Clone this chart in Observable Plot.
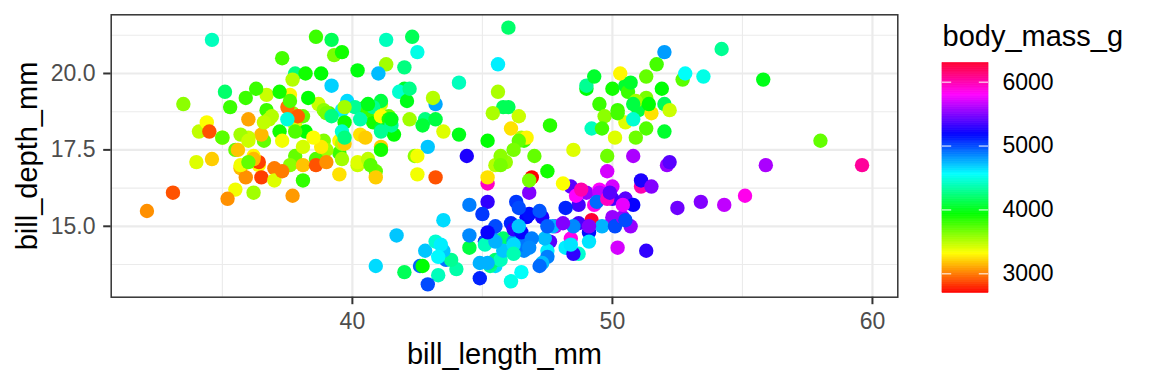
<!DOCTYPE html>
<html>
<head>
<meta charset="utf-8">
<script src="https://cdn.jsdelivr.net/npm/d3@7"></script>
<script src="https://cdn.jsdelivr.net/npm/@observablehq/plot@0.6"></script>
<style>
  html, body { margin: 0; padding: 0; background: #ffffff; }
  #wrap { position: relative; width: 1152px; height: 384px; overflow: hidden; }
  #legend { position: absolute; left: 941.7px; top: 0; }
  #wrap g[aria-label$="tick label"] { font-size: 23px; }
</style>
</head>
<body>
<div id="wrap"><div id="main"></div><div id="legend"></div></div>
<script>
// Palmer penguins: bill length (mm), bill depth (mm), body mass (g)
const billLength = [
39.1,39.5,40.3,36.7,39.3,38.9,39.2,34.1,42.0,37.8,37.8,41.1,38.6,34.6,36.6,38.7,42.5,34.4,46.0,37.8,
37.7,35.9,38.2,38.8,35.3,40.6,40.5,37.9,40.5,39.5,37.2,39.5,40.9,36.4,39.2,38.8,42.2,37.6,39.8,36.5,
40.8,36.0,44.1,37.0,39.6,41.1,37.5,36.0,42.3,39.6,40.1,35.0,42.0,34.5,41.4,39.0,40.6,36.5,37.6,35.7,
41.3,37.6,41.1,36.4,41.6,35.5,41.1,35.9,41.8,33.5,39.7,39.6,45.8,35.5,42.8,40.9,37.2,36.2,42.1,34.6,
42.9,36.7,35.1,37.3,41.3,36.3,36.9,38.3,38.9,35.7,41.1,34.0,39.6,36.2,40.8,38.1,40.3,33.1,43.2,35.0,
41.0,37.7,37.8,37.9,39.7,38.6,38.2,38.1,43.2,38.1,45.6,39.7,42.2,39.6,42.7,38.6,37.3,35.7,41.1,36.2,
37.7,40.2,41.4,35.2,40.6,38.8,41.5,39.0,44.1,38.5,43.1,36.8,37.5,38.1,41.1,35.6,40.2,37.0,39.7,40.2,
40.6,32.1,40.7,37.3,39.0,39.2,36.6,36.0,37.8,36.0,41.5,
46.1,50.0,48.7,50.0,47.6,46.5,45.4,46.7,43.3,46.8,40.9,49.0,45.5,48.4,45.8,49.3,42.0,49.2,46.2,48.7,
50.2,45.1,46.5,46.3,42.9,46.1,44.5,47.8,48.2,50.0,47.3,42.8,45.1,59.6,49.1,48.4,42.6,44.4,44.0,48.7,
42.7,49.6,45.3,49.6,50.5,43.6,45.5,50.5,44.9,45.2,46.6,48.5,45.1,50.1,46.5,45.0,43.8,45.5,43.2,50.4,
45.3,46.2,45.7,54.3,45.8,49.8,46.2,49.5,43.5,50.7,47.7,46.4,48.2,46.5,46.4,48.6,47.5,51.1,45.2,45.2,
49.1,52.5,47.4,50.0,44.9,50.8,43.4,51.3,47.5,52.1,47.5,52.2,45.5,49.5,44.5,50.8,49.4,46.9,48.4,51.1,
48.5,55.9,47.2,49.1,47.3,46.8,41.7,53.4,43.3,48.1,50.5,49.8,43.5,51.5,46.2,55.1,44.5,48.8,47.2,46.8,
50.4,45.2,49.9,
46.5,50.0,51.3,45.4,52.7,45.2,46.1,51.3,46.0,51.3,46.6,51.7,47.0,52.0,45.9,50.5,50.3,58.0,46.4,49.2,
42.4,48.5,43.2,50.6,46.7,52.0,50.5,49.5,46.4,52.8,40.9,54.2,42.5,51.0,49.7,47.5,47.6,52.0,46.9,53.5,
49.0,46.2,50.9,45.5,50.9,50.8,50.1,49.0,51.5,49.8,48.1,51.4,45.7,50.7,42.5,52.2,45.2,49.3,50.2,45.6,
51.9,46.8,45.7,55.8,43.5,49.6,50.8,50.2
];
const billDepth = [
18.7,17.4,18.0,19.3,20.6,17.8,19.6,18.1,20.2,17.1,17.3,17.6,21.2,21.1,17.8,19.0,20.7,18.4,21.5,18.3,
18.7,19.2,18.1,17.2,18.9,18.6,17.9,18.6,18.9,16.7,18.1,17.8,18.9,17.0,21.1,20.0,18.5,19.3,19.1,18.0,
18.4,18.5,19.7,16.9,18.8,19.0,18.9,17.9,21.2,17.7,18.9,17.9,19.5,18.1,18.6,17.5,18.8,16.6,19.1,16.9,
21.1,17.0,18.2,17.1,18.0,16.2,19.1,16.6,19.4,19.0,18.4,17.2,18.9,17.5,18.5,16.8,19.4,16.1,19.1,17.2,
17.6,18.8,19.4,17.8,20.3,19.5,18.6,19.2,18.8,18.0,18.1,17.1,18.1,17.3,18.9,18.6,18.5,16.1,18.5,17.9,
20.0,16.0,20.0,18.6,18.9,17.2,20.0,17.0,19.0,16.5,20.3,17.7,19.5,20.7,18.3,17.0,20.5,17.0,18.6,17.2,
19.8,17.0,18.5,15.9,19.0,17.6,18.3,17.1,18.0,17.9,19.2,18.5,18.5,17.6,17.5,17.5,20.1,16.5,17.9,17.1,
17.2,15.5,17.0,16.8,18.7,18.6,18.4,17.8,18.1,17.1,18.5,
13.2,16.3,14.1,15.2,14.5,13.5,14.6,15.3,13.4,15.4,13.7,16.1,13.7,14.6,14.6,15.7,13.5,15.2,14.5,15.1,
14.3,14.5,14.5,15.8,13.1,15.1,14.3,15.0,14.3,15.3,15.3,14.2,14.5,17.0,14.8,16.3,13.7,17.3,13.6,15.7,
13.7,16.0,13.7,15.0,15.9,13.9,13.9,15.9,13.3,15.8,14.2,14.1,14.4,15.0,14.4,15.4,13.9,15.0,14.5,15.3,
13.8,14.9,13.9,15.7,14.2,16.8,14.4,16.2,14.2,15.0,15.0,15.6,15.6,14.8,15.0,16.0,14.2,16.3,13.8,16.4,
14.5,15.6,14.6,15.9,13.8,17.3,14.4,14.2,14.0,17.0,15.0,17.1,14.5,16.1,14.7,15.7,15.8,14.6,14.4,16.5,
15.0,17.0,15.5,15.0,13.8,16.1,14.7,15.8,14.0,15.1,15.2,15.9,15.2,16.3,14.1,16.0,15.7,16.2,13.7,14.3,
15.7,14.8,16.1,
17.9,19.5,19.2,18.7,19.8,17.8,18.2,18.2,18.9,19.9,17.8,20.3,17.3,18.1,17.1,19.6,20.0,17.8,18.6,18.2,
17.3,17.5,16.6,19.4,17.9,19.0,18.4,19.0,17.8,20.0,16.6,20.8,16.7,18.8,18.6,16.8,18.3,20.7,16.6,19.9,
19.5,17.5,19.1,17.0,17.9,18.5,17.9,19.6,18.7,17.3,16.4,19.0,17.3,19.7,17.3,18.8,16.6,19.9,18.8,19.4,
19.5,16.5,17.0,19.8,18.1,18.2,19.0,18.7
];
const bodyMass = [
3750,3800,3250,3450,3650,3625,4675,3475,4250,3300,3700,3200,3800,4400,3700,3450,4500,3325,4200,3400,
3600,3800,3950,3800,3800,3550,3200,3150,3950,3250,3900,3300,3900,3325,4150,3950,3550,3300,4650,3150,
3900,3100,4400,3000,4600,3425,2975,3450,4150,3500,4300,3450,4050,2900,3700,3550,3800,2850,3750,3150,
4400,3600,4050,2850,3950,3350,4100,3050,4450,3600,3900,3550,4150,3700,4250,3700,3900,3550,4000,3200,
4700,3800,4200,3350,3550,3800,3500,3950,3600,3550,4300,3400,4450,3300,4300,3700,4350,2900,4100,3725,
4725,3075,4250,2925,3550,3750,3900,3175,4775,3825,4600,3200,4275,3900,4075,2900,3775,3350,3325,3150,
3500,3450,3875,3050,4000,3275,4300,3050,4000,3325,3500,3500,4475,3425,3900,3175,3975,3400,4250,3400,
3475,3050,3725,3000,3650,4250,3475,3450,3750,3700,4000,
4500,5700,4450,5700,5400,4550,4800,5200,4400,5150,4650,5550,4650,5850,4200,5850,4150,6300,4800,5350,
5700,5000,4400,5050,5000,5100,4100,5650,4600,5550,5250,4700,5050,6050,5150,5400,4950,5250,4350,5350,
3950,5700,4300,4750,5550,4900,4200,5400,5100,5300,4850,5300,4400,5000,4900,5050,4300,5000,4450,5550,
4200,5300,4400,5650,4700,5700,4650,5800,4700,5550,4750,5000,5100,5200,4700,5800,4600,6000,4750,5950,
4625,5450,4725,5350,4750,5600,4600,5300,4875,5550,4950,5400,4750,5650,4850,5200,4925,4875,4625,5250,
4850,5600,4975,5500,4725,5500,4700,5500,4575,5500,5000,5950,4650,5500,4375,5850,4875,6000,4925,4850,
5750,5200,5400,
3500,3900,3650,3525,3725,3950,3250,3750,4150,3700,3800,3775,3700,4050,3575,4050,3300,3700,3450,4400,
3600,3400,2900,3800,3300,4150,3400,3800,3700,4550,3200,4300,3350,4100,3600,3900,3850,4800,2700,4500,
3950,3650,3550,3500,3675,4450,3400,4300,3250,3675,3325,3950,3600,4050,3350,3450,3250,4050,3800,3525,
3950,3650,3650,4000,3400,3775,4100,3775
];

// axis ticks and grid positions (as in the reference)
const xTicks = [40, 50, 60];
const xMinor = [35, 45, 55];
const yTicks = [15, 17.5, 20];
const yMinor = [13.75, 16.25, 18.75, 21.25];
const massTicks = [3000, 4000, 5000, 6000];
const massRange = [2700, 6300];

const data = billLength.map((d, i) => ({bill_length_mm: d, bill_depth_mm: billDepth[i], body_mass_g: bodyMass[i]}));

const rainbow = t => d3.hsl(t * 348, 1, 0.5).formatHex();
const colorScale = {type: "linear", domain: massRange, interpolate: rainbow};
const font = "'Liberation Sans', Arial, Helvetica, sans-serif";
const grid = "#ebebeb";
const titleSize = 29;

const main = Plot.plot({
  width: 1152,
  height: 384,
  marginLeft: 110.7,
  marginRight: 254.7,
  marginTop: 14.3,
  marginBottom: 87.3,
  style: {fontFamily: font, background: "#ffffff", overflow: "visible"},
  x: {domain: [30.725, 60.975]},
  y: {domain: [12.68, 21.92]},
  color: colorScale,
  marks: [
    Plot.ruleX(xMinor, {stroke: grid, strokeWidth: 1.1}),
    Plot.ruleY(yMinor, {stroke: grid, strokeWidth: 1.1}),
    Plot.ruleX(xTicks, {stroke: grid, strokeWidth: 2.2}),
    Plot.ruleY(yTicks, {stroke: grid, strokeWidth: 2.2}),
    Plot.dot(data, {x: "bill_length_mm", y: "bill_depth_mm", fill: "body_mass_g", r: 7.2, stroke: null}),
    Plot.frame({stroke: "#333333", strokeWidth: 1.5}),
    Plot.axisX({ticks: xTicks, tickSize: 7.5, tickPadding: 7.5, fontSize: 23, stroke: "#333333", strokeWidth: 2, fill: "#4d4d4d", label: null}),
    Plot.axisY({ticks: yTicks, tickFormat: d => d.toFixed(1), tickSize: 7.5, tickPadding: 8.2, fontSize: 23, stroke: "#333333", strokeWidth: 2, fill: "#4d4d4d", label: null}),
    Plot.text(["bill_length_mm"], {frameAnchor: "bottom", dy: 66.6, textAnchor: "middle", lineAnchor: "bottom", fontSize: titleSize, fill: "black"}),
    Plot.text(["bill_depth_mm"], {frameAnchor: "left", dx: -74.7, rotate: -90, textAnchor: "middle", lineAnchor: "bottom", fontSize: titleSize, fill: "black"})
  ]
});
document.getElementById("main").appendChild(main);

// color bar legend
const step = 10;
const steps = d3.range(massRange[0], massRange[1], step);
const legend = Plot.plot({
  width: 210,
  height: 384,
  marginLeft: 0,
  marginRight: 164,
  marginTop: 62.5,
  marginBottom: 91.5,
  style: {fontFamily: font, background: "transparent", overflow: "visible"},
  x: {domain: [0, 1], axis: null},
  y: {domain: massRange},
  color: colorScale,
  marks: [
    Plot.rect(steps, {x1: 0, x2: 1, y1: d => d, y2: d => d + step, fill: d => d + step / 2, stroke: d => d + step / 2, strokeWidth: 0.5}),
    Plot.ruleY(massTicks, {x1: 0, x2: 0.2, stroke: "white", strokeWidth: 1}),
    Plot.ruleY(massTicks, {x1: 0.8, x2: 1, stroke: "white", strokeWidth: 1}),
    Plot.axisY({anchor: "right", ticks: massTicks, tickFormat: d => String(d), tickSize: 0, tickPadding: 14, fontSize: 23, fill: "black", label: null}),
    Plot.text(["body_mass_g"], {frameAnchor: "top-left", dy: -17.5, textAnchor: "start", lineAnchor: "bottom", fontSize: titleSize, fill: "black"})
  ]
});
document.getElementById("legend").appendChild(legend);
</script>
</body>
</html>
